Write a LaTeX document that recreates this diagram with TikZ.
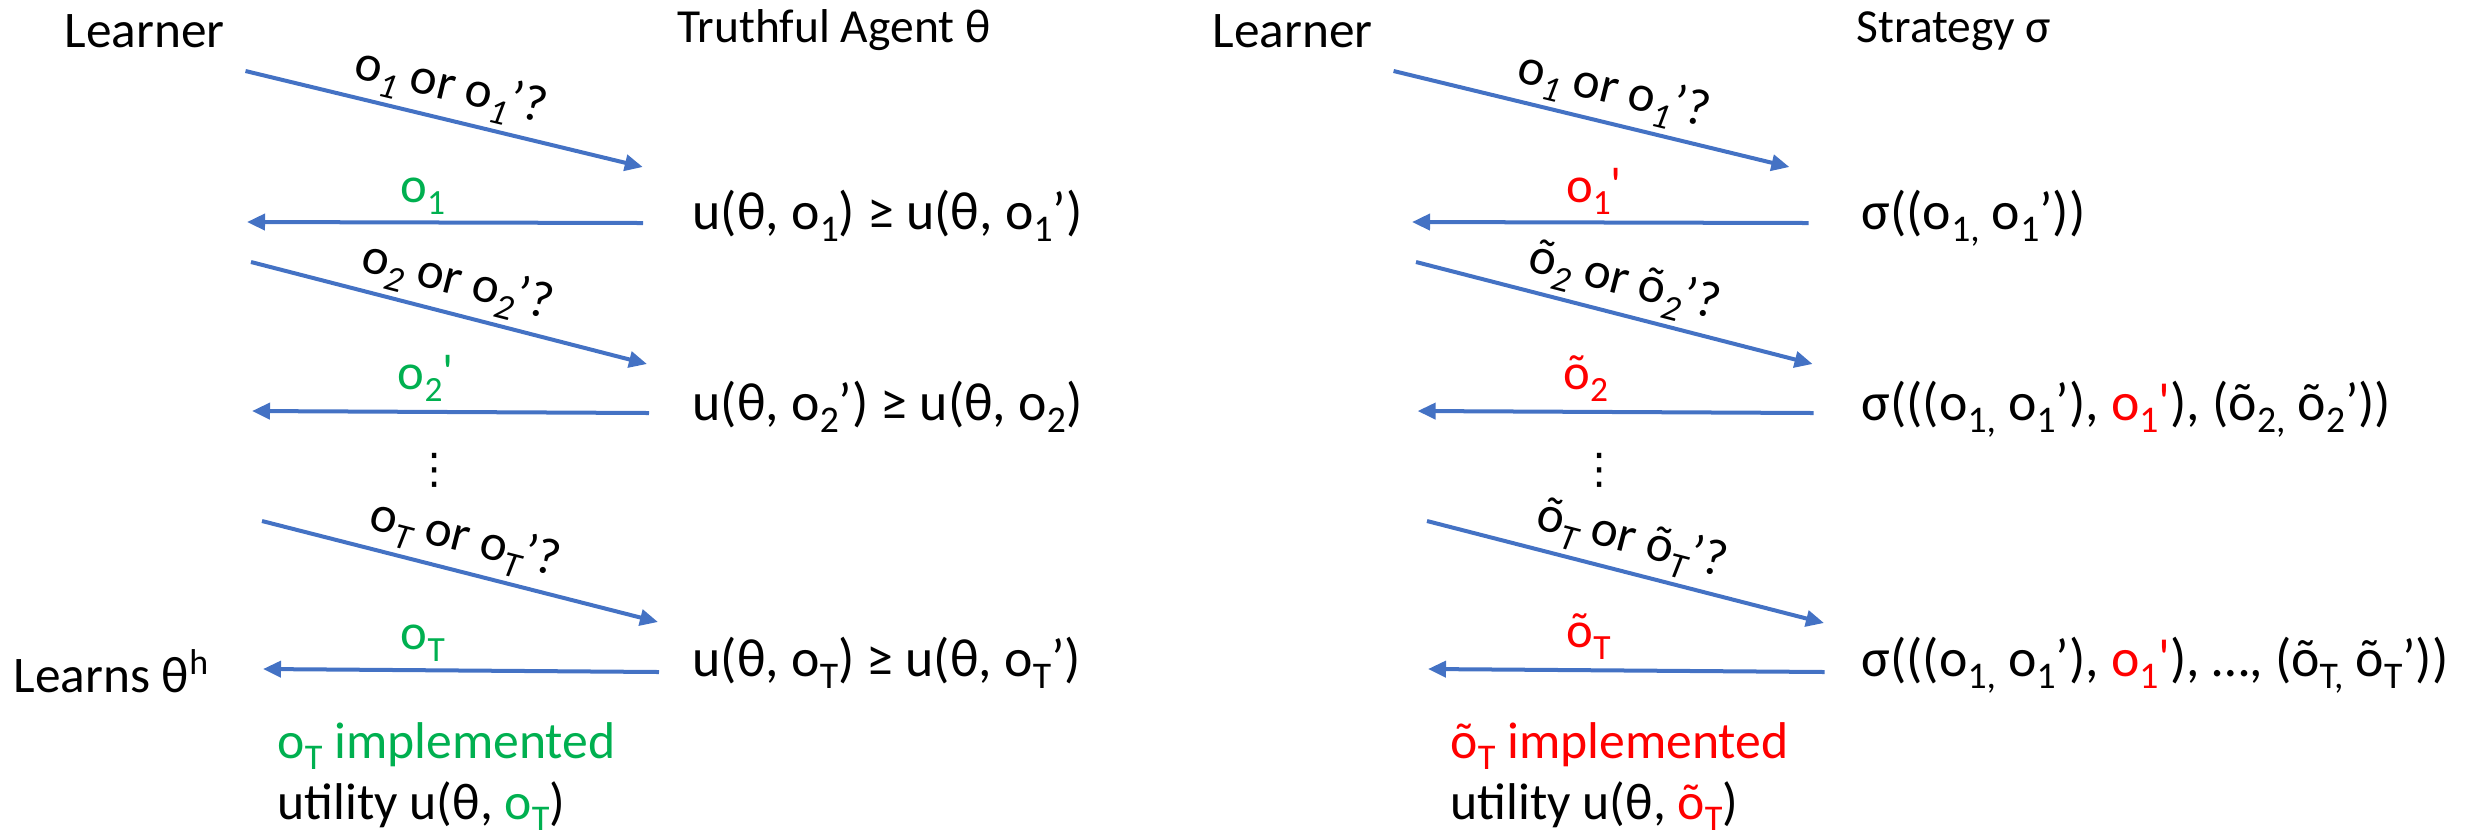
\documentclass[tikz,border=0pt]{standalone}
\usepackage{fontspec}
\usepackage{graphicx}
\usetikzlibrary{arrows.meta}
\newfontfamily\cfont{Carlito}
\newfontfamily\dvfont{DejaVu Sans}
\definecolor{ablue}{RGB}{68,114,196}
\definecolor{agreen}{RGB}{0,176,80}
\definecolor{ared}{RGB}{255,0,0}
\newcommand\mysub[1]{\raisebox{-0.23em}{\scalebox{0.7}{#1}}}
\newcommand\itsub[1]{\raisebox{-0.23em}{\scalebox{0.7}{\itshape #1}}}
\newcommand\mysup[1]{\raisebox{0.34em}{\scalebox{0.7}{#1}}}
\newcommand\gr[1]{\textcolor{agreen}{#1}}
\newcommand\rd[1]{\textcolor{ared}{#1}}
\tikzset{
  hdr/.style={font=\cfont\fontsize{14.6}{17}\selectfont, anchor=base west, inner sep=0pt},
  ttl/.style={font=\cfont\fontsize{13.5}{16}\selectfont, anchor=base west, inner sep=0pt},
  frm/.style={font=\cfont\fontsize{15.3}{18}\selectfont, anchor=base west, inner sep=0pt},
  btm/.style={font=\cfont\fontsize{14.7}{17}\selectfont, anchor=base west, inner sep=0pt},
  msg/.style={draw=ablue, line width=0.04cm, -{Triangle[length=0.18cm,width=0.16cm]}},
  qlab/.style={font=\cfont\fontsize{14.6}{17}\selectfont, sloped, above, text depth=0pt, inner xsep=0pt, inner ysep=0.17cm},
  rlab/.style={font=\cfont\fontsize{14.4}{17}\selectfont, anchor=base, inner sep=0pt},
  vdots/.style={font=\dvfont\fontsize{12}{14}\selectfont, inner sep=0pt}
}
\begin{document}
\begin{tikzpicture}[x=0.01cm,y=-0.01cm]
\useasboundingbox (0,0) rectangle (2471,838);

% ---------- left panel ----------
\node[hdr] (learnerL) at (64,47) {Learner};
\node[ttl] (agent) at (677,42) {Truthful Agent θ};

\coordinate (la1s) at (245.5,71);  \coordinate (la1e) at (642.8,167);
\coordinate (lr1s) at (643,223);   \coordinate (lr1e) at (247,222);
\coordinate (la2s) at (251,262);   \coordinate (la2e) at (647,364);
\coordinate (lr2s) at (649,413);   \coordinate (lr2e) at (252,411);
\coordinate (la3s) at (262,521);   \coordinate (la3e) at (658,622);
\coordinate (lr3s) at (659,672);   \coordinate (lr3e) at (263,669);

\draw[msg] (la1s) -- node[qlab, pos=0.497] (lq1) {o\itsub{1} or o\itsub{1}’?} (la1e);
\draw[msg] (lr1s) -- node[rlab, pos=0.556, yshift=0.195cm] (lo1) {\gr{o\mysub{1}}} (lr1e);
\draw[msg] (la2s) -- node[qlab, pos=0.50] (lq2) {o\itsub{2} or o\itsub{2}’?} (la2e);
\draw[msg] (lr2s) -- node[rlab, pos=0.562, yshift=0.22cm] (lo2) {\gr{o\mysub{2}'}} (lr2e);
\node[vdots] (ldots) at (435,470) {⋮};
\draw[msg] (la3s) -- node[qlab, pos=0.493] (lq3) {o\itsub{T} or o\itsub{T}’?} (la3e);
\draw[msg] (lr3s) -- node[rlab, pos=0.596, yshift=0.205cm] (lo3) {\gr{o\mysub{T}}} (lr3e);

\node[frm] (lf1) at (692,229) {u(θ, o\mysub{1}) ≥ u(θ, o\mysub{1}’)};
\node[frm] (lf2) at (692,420) {u(θ, o\mysub{2}’) ≥ u(θ, o\mysub{2})};
\node[frm] (lf3) at (692,676) {u(θ, o\mysub{T}) ≥ u(θ, o\mysub{T}’)};

\node[hdr] (learns) at (13,692) {Learns θ\mysup{h}};
\node[btm] (limpl) at (277,758) {\gr{o\mysub{T} implemented}};
\node[btm] (lutil) at (277,819) {utility u(θ, \gr{o\mysub{T}})};

% ---------- right panel ----------
\node[hdr] (learnerR) at (1212,47) {Learner};
\node[ttl] (strategy) at (1856,42) {Strategy σ};

\coordinate (ra1s) at (1393.6,71);  \coordinate (ra1e) at (1789.4,167);
\coordinate (rr1s) at (1808.5,223); \coordinate (rr1e) at (1412,222);
\coordinate (ra2s) at (1416,262);   \coordinate (ra2e) at (1812.6,364);
\coordinate (rr2s) at (1813.5,413); \coordinate (rr2e) at (1417.6,411);
\coordinate (ra3s) at (1427,521);   \coordinate (ra3e) at (1824,623);
\coordinate (rr3s) at (1824.7,672); \coordinate (rr3e) at (1428,669);

\draw[msg] (ra1s) -- node[qlab, pos=0.537] (rq1) {o\itsub{1} or o\itsub{1}’?} (ra1e);
\draw[msg] (rr1s) -- node[rlab, pos=0.541, yshift=0.195cm] (ro1) {\rd{o\mysub{1}'}} (rr1e);
\draw[msg] (ra2s) -- node[qlab, pos=0.504] (rq2) {õ\itsub{2} or õ\itsub{2}’?} (ra2e);
\draw[msg] (rr2s) -- node[rlab, pos=0.575, yshift=0.22cm] (ro2) {\rd{õ\mysub{2}}} (rr2e);
\node[vdots] (rdots) at (1600,470) {⋮};
\draw[msg] (ra3s) -- node[qlab, pos=0.495] (rq3) {õ\itsub{T} or õ\itsub{T}’?} (ra3e);
\draw[msg] (rr3s) -- node[rlab, pos=0.595, yshift=0.225cm] (ro3) {\rd{õ\mysub{T}}} (rr3e);

\node[frm] (rf1) at (1861,229) {σ((o\mysub{1,} o\mysub{1}’))};
\node[frm] (rf2) at (1861,420) {σ(((o\mysub{1,} o\mysub{1}’), \rd{o\mysub{1}'}), (õ\mysub{2,} õ\mysub{2}’))};
\node[frm] (rf3) at (1861,676) {σ(((o\mysub{1,} o\mysub{1}’), \rd{o\mysub{1}'}), …, (õ\mysub{T,} õ\mysub{T}’))};

\node[btm] (rimpl) at (1450,758) {\rd{õ\mysub{T} implemented}};
\node[btm] (rutil) at (1450,819) {utility u(θ, \rd{õ\mysub{T}})};
\end{tikzpicture}
\end{document}
